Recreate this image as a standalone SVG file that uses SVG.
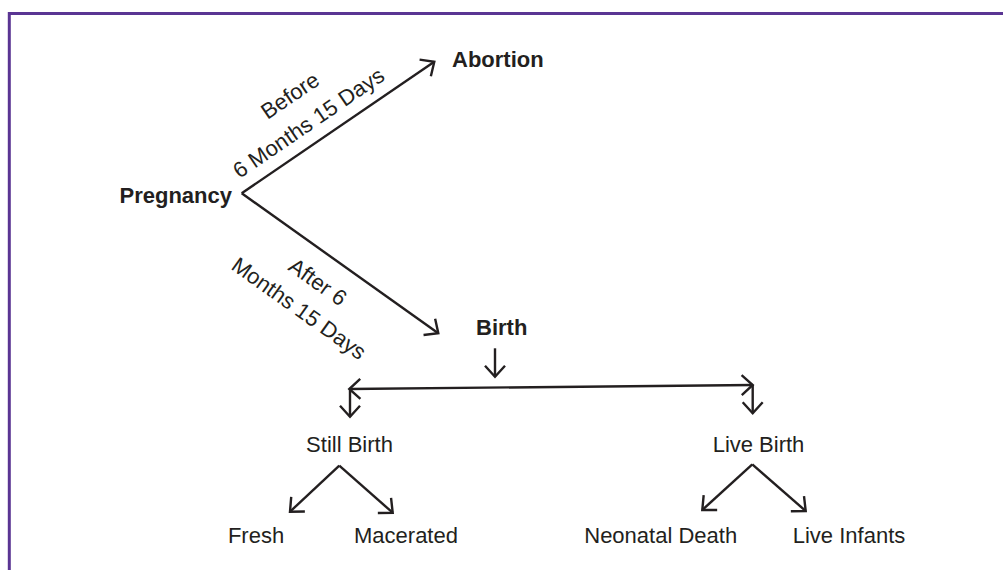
<svg xmlns="http://www.w3.org/2000/svg" width="1003" height="570" viewBox="0 0 1003 570">
  <style>
    .frame { fill: none; stroke: #5a3593; stroke-width: 3; }
    .bold { font-family: "Liberation Sans", Arial, sans-serif; font-weight: bold; font-size: 22px; fill: #231f20; }
    .reg { font-family: "Liberation Sans", Arial, sans-serif; font-size: 22px; fill: #231f20; }
    .mid { text-anchor: middle; }
    .conn { fill: none; stroke: #231f20; stroke-width: 2.4; marker-end: url(#arr); }
    .dbl { marker-start: url(#arrS); }
  </style>
  <defs>
    <marker id="arr" markerUnits="userSpaceOnUse" viewBox="0 0 18 24" markerWidth="18" markerHeight="24" refX="15" refY="12" orient="auto">
      <path d="M4,2 L15,12 L4,22" fill="none" stroke="#231f20" stroke-width="2.4" stroke-linejoin="miter" stroke-linecap="butt"/>
    </marker>
    <marker id="arrS" markerUnits="userSpaceOnUse" viewBox="0 0 18 24" markerWidth="18" markerHeight="24" refX="3" refY="12" orient="auto">
      <path d="M14,2 L3,12 L14,22" fill="none" stroke="#231f20" stroke-width="2.4" stroke-linejoin="miter" stroke-linecap="butt"/>
    </marker>
  </defs>

  <rect width="1003" height="570" fill="#ffffff"/>
  <path class="frame" d="M1003,13.5 H9.3 V570"/>

  <g id="connectors">
    <path class="conn" d="M241.7,193.3 L434.3,61.7"/>
    <path class="conn" d="M241.7,193.3 L438.3,333.3"/>
    <path class="conn" d="M495,348.3 L495,376.7"/>
    <path class="conn dbl" d="M349.3,389 L752.7,385"/>
    <path class="conn" d="M350,389 L350,416.7"/>
    <path class="conn" d="M752.7,385 L752.7,413.3"/>
    <path class="conn" d="M339.3,465.7 L290,511.7"/>
    <path class="conn" d="M339.3,465.7 L392.7,512.7"/>
    <path class="conn" d="M752.3,464.3 L702.3,510"/>
    <path class="conn" d="M752.3,464.3 L805.7,511"/>
    <g id="label-before" transform="translate(241.7,193.3) rotate(-34.3)">
      <text class="reg mid" x="95" y="-46">Before</text>
      <text class="reg mid" x="95" y="-13">6 Months 15 Days</text>
    </g>
    <g id="label-after" transform="translate(241.7,193.3) rotate(35.5)">
      <text class="reg mid" x="113.5" y="35.5">After 6</text>
      <text class="reg mid" x="113.5" y="68">Months 15 Days</text>
    </g>
  </g>

  <g id="pregnancy"><text class="bold" x="232" y="203" text-anchor="end">Pregnancy</text></g>
  <g id="abortion"><text class="bold" x="452" y="66.5">Abortion</text></g>
  <g id="birth"><text class="bold" x="476" y="335">Birth</text></g>
  <g id="still-birth"><text class="reg mid" x="349.5" y="452.3">Still Birth</text></g>
  <g id="live-birth"><text class="reg mid" x="758.5" y="451.7">Live Birth</text></g>
  <g id="fresh"><text class="reg mid" x="256" y="543.3">Fresh</text></g>
  <g id="macerated"><text class="reg mid" x="406" y="543.3">Macerated</text></g>
  <g id="neonatal-death"><text class="reg mid" x="660.7" y="543.3">Neonatal Death</text></g>
  <g id="live-infants"><text class="reg mid" x="849" y="543.3">Live Infants</text></g>
</svg>
